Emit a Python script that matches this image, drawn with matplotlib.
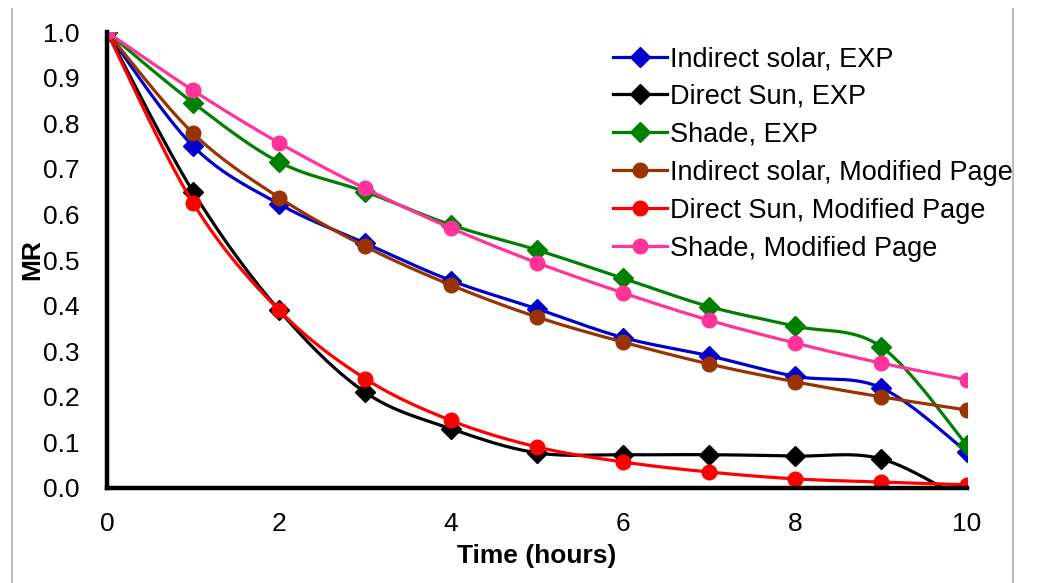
import numpy as np
import matplotlib
matplotlib.use("Agg")
import matplotlib.pyplot as plt
from matplotlib.lines import Line2D

plt.rcParams['font.family'] = ['Liberation Sans', 'DejaVu Sans']

hours = [0, 1, 2, 3, 4, 5, 6, 7, 8, 9, 10]

indirect_exp = [1.0, 0.75, 0.623, 0.537, 0.455, 0.393, 0.33, 0.29, 0.245, 0.22, 0.079]
direct_exp = [1.0, 0.65, 0.39, 0.21, 0.13, 0.077, 0.073, 0.073, 0.07, 0.064, -0.03]
shade_exp = [1.0, 0.845, 0.715, 0.65, 0.577, 0.522, 0.46, 0.398, 0.355, 0.31, 0.094]
indirect_mp = [1.0, 0.778, 0.637, 0.53, 0.445, 0.375, 0.32, 0.272, 0.233, 0.2, 0.171]
direct_mp = [1.0, 0.625, 0.39, 0.24, 0.148, 0.09, 0.057, 0.035, 0.02, 0.013, 0.007]
shade_mp = [1.0, 0.872, 0.757, 0.657, 0.57, 0.494, 0.428, 0.368, 0.318, 0.274, 0.237]

labels = ["Indirect solar, EXP", "Direct Sun, EXP", "Shade, EXP",
          "Indirect solar, Modified Page", "Direct Sun, Modified Page",
          "Shade, Modified Page"]
series = [indirect_exp, direct_exp, shade_exp, indirect_mp, direct_mp, shade_mp]
colors = ["#0000CC", "#000000", "#008000", "#993300", "#FF0000", "#FF3399"]
markers = ["D", "D", "D", "o", "o", "o"]


def smooth(x, y, n=30):
    # Excel-like smoothed line: cubic Bezier with Catmull-Rom control points
    x = np.asarray(x, float)
    y = np.asarray(y, float)
    xs, ys = [], []
    for i in range(len(x) - 1):
        p0 = np.array([x[max(i - 1, 0)], y[max(i - 1, 0)]])
        p1 = np.array([x[i], y[i]])
        p2 = np.array([x[i + 1], y[i + 1]])
        p3 = np.array([x[min(i + 2, len(x) - 1)], y[min(i + 2, len(x) - 1)]])
        c1 = p1 + (p2 - p0) / 6
        c2 = p2 - (p3 - p1) / 6
        t = np.linspace(0, 1, n)[:, None]
        pts = ((1 - t) ** 3) * p1 + 3 * ((1 - t) ** 2) * t * c1 + 3 * (1 - t) * t ** 2 * c2 + t ** 3 * p2
        xs.extend(pts[:, 0])
        ys.extend(pts[:, 1])
    return xs, ys


fig = plt.figure(figsize=(10.43, 5.83), dpi=100)
ax = fig.add_axes([0.1026, 0.163, 0.8245, 0.782])

handles = []
for vals, c, m, lab in zip(series, colors, markers, labels):
    sx, sy = smooth(hours, vals)
    ax.plot(sx, sy, color=c, lw=2.3, solid_capstyle='round')
    ms = 10 if m == "D" else 10.5
    ax.plot(hours, vals, ls='none', marker=m, color=c, ms=ms)
    handles.append(Line2D([], [], color=c, lw=2.3, marker=m, ms=ms))

ax.set_xlim(0, 10)
ax.set_ylim(0, 1.0)
ax.set_xticks([0, 2, 4, 6, 8, 10])
ax.set_yticks(np.arange(0, 1.01, 0.1))
ax.set_yticklabels([f"{v:.1f}" for v in np.arange(0, 1.01, 0.1)])
ax.tick_params(length=0, labelsize=19, pad=20)
ax.tick_params(axis='x', pad=17)

for s in ['top', 'right']:
    ax.spines[s].set_visible(False)
for s in ['left', 'bottom']:
    ax.spines[s].set_linewidth(3.2)

ax.set_xlabel("Time (hours)", fontsize=19, fontweight='bold', labelpad=6)
ax.set_ylabel("MR", fontsize=19, fontweight='bold', labelpad=-1)

ax.legend(handles, labels, loc='upper left', bbox_to_anchor=(0.588, 0.921),
          bbox_transform=fig.transFigure, frameon=False, fontsize=19.5,
          handlelength=2.0, handletextpad=0.08, labelspacing=0.44,
          borderpad=0, borderaxespad=0)

fig.add_artist(Line2D([0.0115, 0.0115], [0, 0.985], color='#BBBBBB', lw=1.5,
                      transform=fig.transFigure))
fig.add_artist(Line2D([0.971, 0.971], [0, 0.985], color='#BBBBBB', lw=1.5,
                      transform=fig.transFigure))

fig.savefig("out.png", dpi=100)
